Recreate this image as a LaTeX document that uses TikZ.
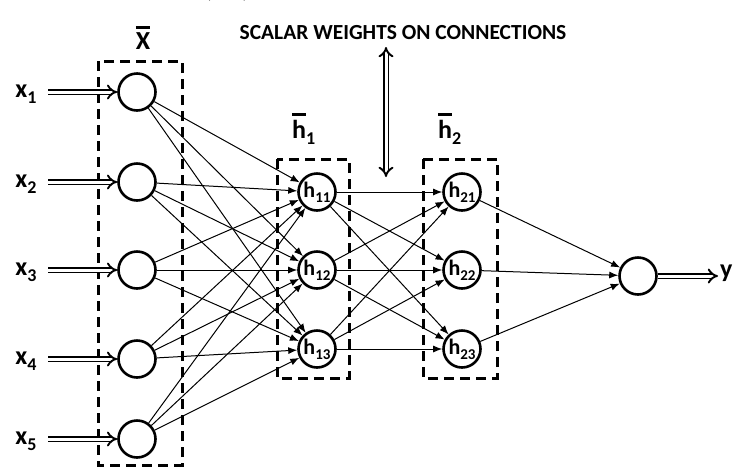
\documentclass[tikz,border=0pt]{standalone}
\usepackage{fontspec}
\setmainfont{Carlito}
\usetikzlibrary{arrows.meta}
\newcommand{\hsub}[1]{\raisebox{-0.45ex}{\fontsize{15}{15}\selectfont #1}}
\newcommand{\xsub}[1]{\raisebox{-0.5ex}{\fontsize{18}{18}\selectfont #1}}
\newcommand{\barred}[1]{\vbox{\hrule height 2.6pt \kern 4pt \hbox{#1}}}
\begin{document}
\begin{tikzpicture}[x=1pt,y=-1pt,
  neuron/.style={circle, draw, line width=2.6pt, minimum size=37pt, inner sep=0pt,
                 font=\bfseries\fontsize{22}{22}\selectfont},
  dbox/.style={draw, line width=3pt, dash pattern=on 10pt off 6pt},
  conn/.style={line width=1pt, -{Latex[length=9pt,width=7pt]}},
  dbl/.style={double, double distance=3pt, line width=1.9pt, -{Implies}},
  lab/.style={font=\bfseries\fontsize{26}{26}\selectfont, inner sep=0pt}
]
\useasboundingbox (0,0) rectangle (733,467);

% dashed boxes
\draw[dbox] (98,61) rectangle (182,465);
\draw[dbox] (277,159) rectangle (349,378);
\draw[dbox] (423,159) rectangle (497,378);

% fragment at the top edge
\node[font=\fontsize{26}{26}\selectfont, inner sep=0pt] (frag) at (227,-10) {(\hspace{30pt})};

% title and vertical arrow
\node[font=\bfseries\fontsize{21.5}{21.5}\selectfont, inner sep=0pt] (title) at (403,33) {SCALAR WEIGHTS ON CONNECTIONS};
\coordinate (vtop) at (386,47);
\coordinate (vbot) at (386,177);
\draw[dbl, {Implies}-{Implies}] (vtop) -- (vbot);

% group labels
\node[lab] (Xbar) at (143,38) {\barred{X}};
\node[lab, anchor=base west] (h1bar) at (292,138) {\barred{h}\xsub{1}};
\node[lab, anchor=base west] (h2bar) at (438,138) {\barred{h}\xsub{2}};

% input neurons
\node[neuron] (i1) at (137,92) {};
\node[neuron] (i2) at (137,182) {};
\node[neuron] (i3) at (137,270) {};
\node[neuron] (i4) at (137,359) {};
\node[neuron] (i5) at (137,439) {};

% hidden layer 1
\node[neuron] (h11) at (317,192) {h\hsub{11}};
\node[neuron] (h12) at (317,270) {h\hsub{12}};
\node[neuron] (h13) at (317,349) {h\hsub{13}};

% hidden layer 2
\node[neuron] (h21) at (462,192) {h\hsub{21}};
\node[neuron] (h22) at (462,270) {h\hsub{22}};
\node[neuron] (h23) at (462,349) {h\hsub{23}};

% output
\node[neuron] (o) at (638,276) {};
\node[lab, anchor=west] (ylab) at (720,273) {y};
\draw[dbl, shorten >=2pt] (o) -- (ylab.west |- o);

% input labels and arrows
\foreach \i/\y in {1/92,2/182,3/270,4/359,5/439}{
  \node[lab] (xl\i) at (26,\y+2) {x\xsub{\i}};
  \coordinate (s\i) at (48,\y);
  \draw[dbl] (s\i) -- (i\i);
}

% connections
\foreach \i in {1,...,5}{
  \foreach \j in {11,12,13}{
    \draw[conn] (i\i) -- (h\j);
  }
}
\foreach \i in {11,12,13}{
  \foreach \j in {21,22,23}{
    \draw[conn] (h\i) -- (h\j);
  }
}
\foreach \j in {21,22,23}{
  \draw[conn] (h\j) -- (o);
}
\end{tikzpicture}
\end{document}
